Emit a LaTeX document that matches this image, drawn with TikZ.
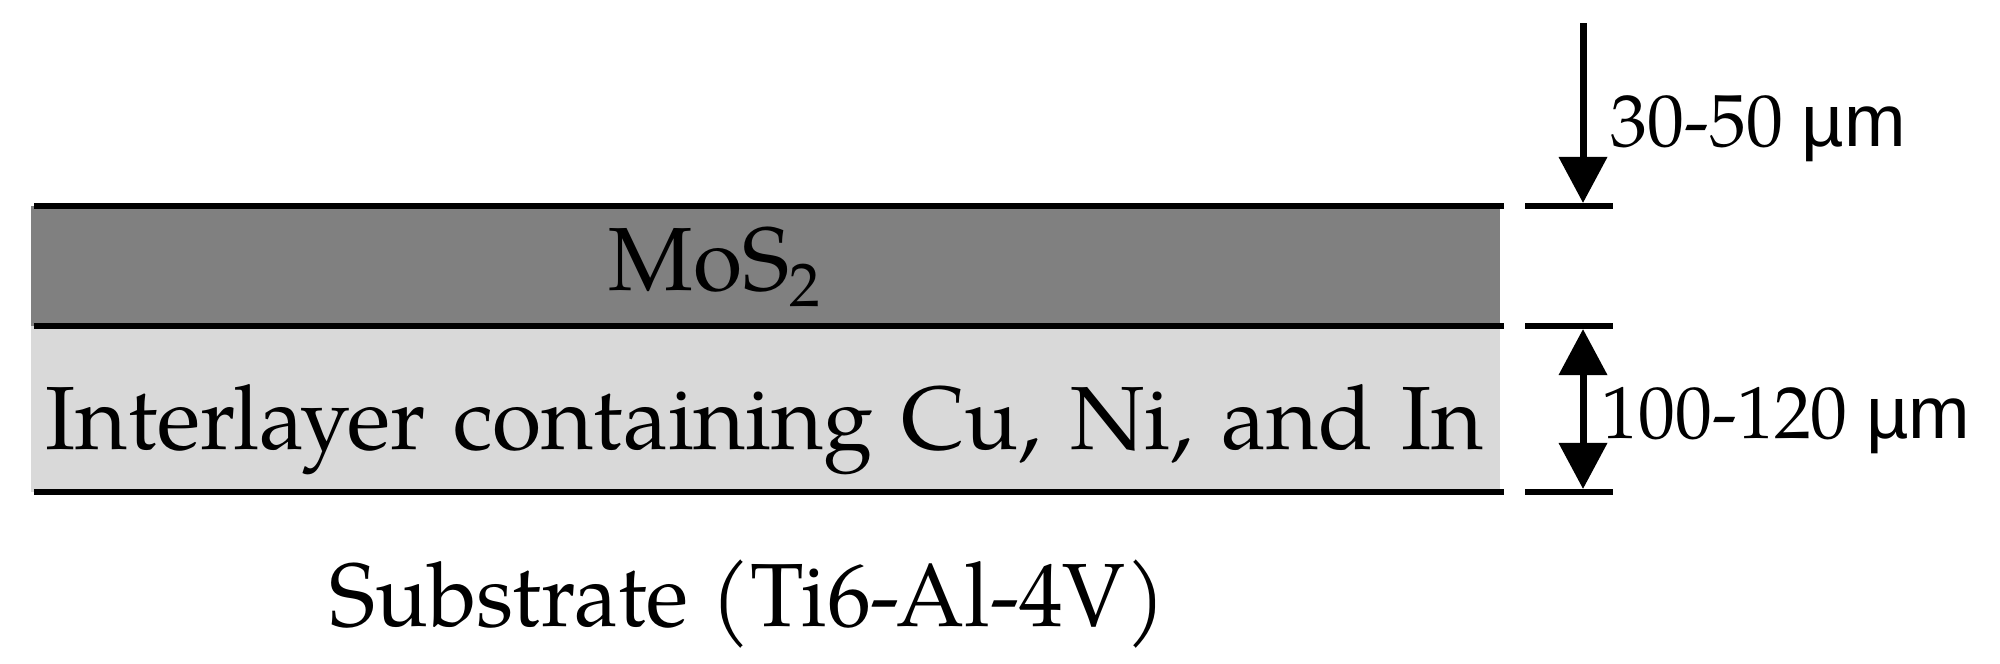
\documentclass[tikz,border=0pt]{standalone}
\usepackage{fontspec}
\setmainfont{TeX Gyre Pagella}
\newfontfamily\unitfont{Liberation Sans}
\usetikzlibrary{arrows.meta}
\definecolor{mosgray}{RGB}{128,128,128}
\definecolor{intergray}{RGB}{217,217,217}
\begin{document}
\begin{tikzpicture}[x=0.01cm,y=-0.01cm,
  layerline/.style={line width=0.065cm},
  dimarrow/.style={line width=0.07cm},
  bigtext/.style={inner sep=0pt, anchor=base west, font=\fontsize{25.5}{30}\selectfont},
  dimtext/.style={inner sep=0pt, anchor=base west, font=\fontsize{21}{25}\selectfont}]
\useasboundingbox (0,0) rectangle (2000,663);
% layers
\fill[mosgray] (31,206) rectangle (1500,326);
\fill[intergray] (31,326) rectangle (1500,492);
\coordinate (l1a) at (34,206);  \coordinate (l1b) at (1504,206);
\coordinate (l2a) at (34,326);  \coordinate (l2b) at (1504,326);
\coordinate (l3a) at (34,492);  \coordinate (l3b) at (1504,492);
\draw[layerline] (l1a) -- (l1b);
\draw[layerline] (l2a) -- (l2b);
\draw[layerline] (l3a) -- (l3b);
% ticks
\coordinate (t1a) at (1525,206); \coordinate (t1b) at (1613,206);
\coordinate (t2a) at (1525,326); \coordinate (t2b) at (1613,326);
\coordinate (t3a) at (1525,492); \coordinate (t3b) at (1613,492);
\draw[layerline] (t1a) -- (t1b);
\draw[layerline] (t2a) -- (t2b);
\draw[layerline] (t3a) -- (t3b);
% arrows
\coordinate (a1s) at (1583,23);  \coordinate (a1e) at (1583,203);
\draw[dimarrow,-{Triangle[length=0.46cm,width=0.47cm]}] (a1s) -- (a1e);
\coordinate (a2t) at (1583,329); \coordinate (a2b) at (1583,489);
\draw[dimarrow,{Triangle[length=0.46cm,width=0.47cm]}-{Triangle[length=0.46cm,width=0.47cm]}] (a2t) -- (a2b);
% texts
\node[bigtext] (mos) at (608,290) {MoS\raisebox{-0.16cm}{\fontsize{17.5}{20}\selectfont 2}};
\node[bigtext] (inter) at (45,449) {\makebox[14.37cm][s]{Interlayer containing Cu, Ni, and In}};
\node[bigtext] (sub) at (329,626) {\scalebox{0.976}[1]{Substrate (Ti6-Al-4V)}};
\node[dimtext] (d1) at (1610,146) {30-50 {\unitfont µm}};
\node[dimtext] (d2) at (1601,438) {100-120 {\unitfont µm}};
\end{tikzpicture}
\end{document}
